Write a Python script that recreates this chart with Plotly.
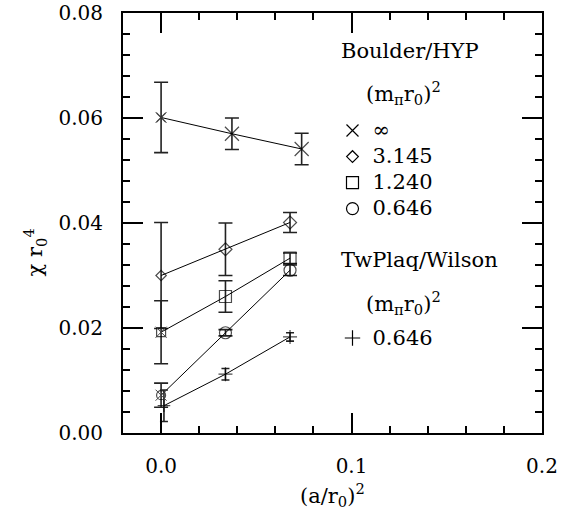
import plotly.graph_objects as go

# ---- data ----
inf_x = [0.0, 0.0372, 0.0738]
inf_y = [0.0601, 0.0570, 0.0541]
inf_e = [0.0067, 0.0030, 0.0030]

d_x = [0.0, 0.0338, 0.0677]
d_y = [0.0300, 0.0350, 0.0401]
d_e = [0.0101, 0.0050, 0.0019]

s_x = [0.0, 0.0338, 0.0677]
s_y = [0.0192, 0.0260, 0.0333]
s_e = [0.0060, 0.0030, 0.0010]

c_x = [0.0, 0.0338, 0.0677]
c_y = [0.0072, 0.0191, 0.0310]
c_e = [0.0023, 0.0006, 0.0010]

p_x = [0.0015, 0.0338, 0.0677]
p_y = [0.0052, 0.0112, 0.0183]
p_e = [0.0030, 0.0011, 0.0008]

legend1_labels = ["∞", "3.145", "1.240", "0.646"]
legend2_labels = ["0.646"]

FONT = "DejaVu Serif"
BIG = 20

fig = go.Figure()

def series(x, y, e, symbol, size, cap):
    fig.add_trace(go.Scatter(
        x=x, y=y, mode="lines+markers",
        line=dict(color="black", width=1),
        marker=dict(symbol=symbol, size=size, color="black",
                    line=dict(color="black", width=1.2)),
        error_y=dict(type="data", array=e, visible=True, color="#222",
                     thickness=1.6, width=cap),
        showlegend=False))

series(inf_x, inf_y, inf_e, "x-thin-open", [9, 14, 14], 7)
series(d_x, d_y, d_e, "diamond-open", [8, 10, 10], 7)
series(s_x, s_y, s_e, "square-open", [9, 12, 12], 7)
series(c_x, c_y, c_e, "circle-open", [9, 12, 12], 7)
series(p_x, p_y, p_e, "cross-thin-open", [9, 10, 10], 4)

# extrapolated (a=0) points get an extra small cross
fig.add_trace(go.Scatter(
    x=[inf_x[0], s_x[0], c_x[0]], y=[inf_y[0], s_y[0], c_y[0]], mode="markers",
    marker=dict(symbol="x-thin-open", size=11, color="#444",
                line=dict(color="#444", width=1)),
    showlegend=False))

# legend entries
leg_syms = ["x-thin-open", "diamond-open", "square-open", "circle-open"]
leg_sizes = [12, 9, 12, 12]
for lab, sym, sz in zip(legend1_labels, leg_syms, leg_sizes):
    fig.add_trace(go.Scatter(
        x=[None], y=[None], mode="markers", name='<span style="font-size:21px">' + lab + "</span>",
        marker=dict(symbol=sym, size=sz, color="black", line=dict(color="black", width=1.2)),
        legend="legend"))
for lab in legend2_labels:
    fig.add_trace(go.Scatter(
        x=[None], y=[None], mode="markers", name='<span style="font-size:21px">' + lab + "</span>",
        marker=dict(symbol="cross-thin-open", size=11, color="black", line=dict(color="black", width=1.2)),
        legend="legend2"))

axis_common = dict(
    showline=True, linecolor="black", linewidth=2, mirror="ticks",
    ticks="inside", ticklen=20, tickwidth=1.5, tickcolor="black",
    showgrid=False, zeroline=False, automargin=False,
    tickfont=dict(family=FONT, size=BIG, color="black"),
)

fig.update_layout(
    width=576, height=514,
    margin=dict(l=123, r=34, t=13, b=81, autoexpand=False),
    paper_bgcolor="white", plot_bgcolor="white",
    font=dict(family=FONT, color="black", size=BIG),
    xaxis=dict(range=[-0.02, 0.2], tickvals=[0.0, 0.1, 0.2], ticktext=["0.0", "0.1", "0.2"],
               minor=dict(dtick=0.02, ticks="inside", ticklen=7, tickcolor="black", tickwidth=1.5),
               ticklabelstandoff=14, **axis_common),
    yaxis=dict(range=[0, 0.08], tickvals=[0, 0.02, 0.04, 0.06, 0.08],
               ticktext=["0.00", "0.02", "0.04", "0.06", "0.08"],
               minor=dict(dtick=0.004, ticks="inside", ticklen=7, tickcolor="black", tickwidth=1.5),
               ticklabelstandoff=14, **axis_common),
    legend=dict(x=0.50, y=0.763, xanchor="left", yanchor="top", bgcolor="rgba(0,0,0,0)",
                font=dict(family=FONT, size=17.7, color="black"), tracegroupgap=0,
                itemsizing="trace"),
    legend2=dict(x=0.50, y=0.269, xanchor="left", yanchor="top", bgcolor="rgba(0,0,0,0)",
                 font=dict(family=FONT, size=17.7, color="black"), itemsizing="trace"),
    annotations=[
        dict(text="Boulder/HYP", x=0.515, y=0.910, xref="paper", yref="paper",
             xanchor="left", yanchor="middle", showarrow=False, font=dict(size=21)),
        dict(text="(m<sub>π</sub>r<sub>0</sub>)<sup>2</sup>", x=0.575, y=0.810, xref="paper", yref="paper",
             xanchor="left", yanchor="middle", showarrow=False, font=dict(size=21)),
        dict(text="TwPlaq/Wilson", x=0.515, y=0.412, xref="paper", yref="paper",
             xanchor="left", yanchor="middle", showarrow=False, font=dict(size=21)),
        dict(text="(m<sub>π</sub>r<sub>0</sub>)<sup>2</sup>", x=0.575, y=0.310, xref="paper", yref="paper",
             xanchor="left", yanchor="middle", showarrow=False, font=dict(size=21)),
        dict(text="χ r<sub>0</sub><sup>4</sup>", x=-0.21, y=0.43, xref="paper", yref="paper",
             xanchor="center", yanchor="middle", textangle=-90, showarrow=False, font=dict(size=21)),
        dict(text="(a/r<sub>0</sub>)<sup>2</sup>", x=0.5, y=-0.147, xref="paper", yref="paper",
             xanchor="center", yanchor="middle", showarrow=False, font=dict(size=21)),
    ],
)

fig.write_html("out.html", config={"displayModeBar": False},
               post_script="document.body.style.margin='0';")
